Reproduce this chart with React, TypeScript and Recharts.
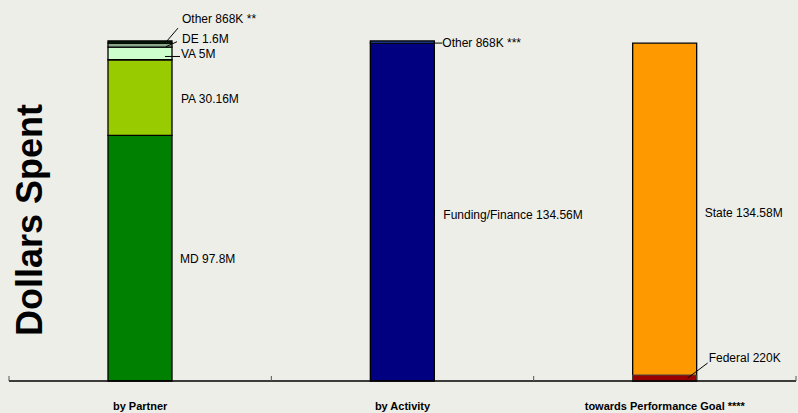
import React from 'react'
import { BarChart, Bar, XAxis, YAxis, LabelList } from 'recharts'

// ── Data (millions of dollars) ───────────────────────────────────────────────
const categories = ['by Partner', 'by Activity', 'towards Performance Goal ****']

const mdValues = [97.8, 0, 0]
const paValues = [30.16, 0, 0]
const vaValues = [5, 0, 0]
const deValues = [1.6, 0, 0]
const otherPartnerValues = [0.868, 0, 0]
const fundingValues = [0, 134.56, 0]
const otherActivityValues = [0, 0.868, 0]
const stateValues = [0, 0, 134.58]
const federalValues = [0, 0, 0.22]

type Series = {
  key: string
  name: string
  suffix?: string
  values: number[]
  color: string
}

// stacking order, bottom to top
const SERIES: Series[] = [
  { key: 'md', name: 'MD', values: mdValues, color: '#008000' },
  { key: 'pa', name: 'PA', values: paValues, color: '#99cc00' },
  { key: 'va', name: 'VA', values: vaValues, color: '#ccffcc' },
  { key: 'de', name: 'DE', values: deValues, color: '#88a888' },
  { key: 'otherP', name: 'Other', suffix: '**', values: otherPartnerValues, color: '#003300' },
  { key: 'funding', name: 'Funding/Finance', values: fundingValues, color: '#000080' },
  { key: 'otherA', name: 'Other', suffix: '***', values: otherActivityValues, color: '#3366ff' },
  { key: 'state', name: 'State', values: stateValues, color: '#ff9900' },
]

// drawn over the foot of the State bar, like the original
const FEDERAL: Series = { key: 'federal', name: 'Federal', values: federalValues, color: '#990000' }

const data = categories.map((name, i) => {
  const row: Record<string, string | number> = { name }
  SERIES.forEach((s) => { row[s.key] = s.values[i] })
  row[FEDERAL.key] = FEDERAL.values[i]
  return row
})

// ── Layout ───────────────────────────────────────────────────────────────────
const CHART_W = 798
const CHART_H = 413
const PLOT_LEFT = 9
const PLOT_RIGHT = 796
const PLOT_BOTTOM = 381
const BAND = (PLOT_RIGHT - PLOT_LEFT) / categories.length
const BG = '#eeeee9'
const FONT = '"Liberation Sans", Arial, sans-serif'

// label placement, offsets from bar right edge / segment middle
type Place = { line?: [number, number, number, number]; tx: number; ty: number }
const PLACES: Record<string, Place> = {
  md: { tx: 8, ty: 1 },
  pa: { tx: 9, ty: 1 },
  va: { line: [-7, 3, 8, 3], tx: 9, ty: 1 },
  de: { line: [-6, 1.5, 5, -3.5], tx: 10, ty: -6 },
  otherP: { line: [-6, 0, 6, -14], tx: 10, ty: -23 },
  funding: { tx: 9, ty: 3 },
  otherA: { line: [0, 1, 8, 1], tx: 8, ty: 1 },
  state: { tx: 8, ty: 1 },
  federal: { line: [-9, 0, 11, -15], tx: 12, ty: -20 },
}

function fmt(v: number) {
  return v >= 1 ? `${v}M` : `${Math.round(v * 1000)}K`
}

function makeLabel(s: Series) {
  return (props: any) => {
    const { x, y, width, height, value } = props
    if (!value) return null
    const p = PLACES[s.key]
    const r = Number(x) + Number(width)
    const m = Number(y) + Number(height) / 2
    const text = `${s.name} ${fmt(Number(value))}${s.suffix ? ' ' + s.suffix : ''}`
    return (
      <g>
        {p.line && (
          <line x1={r + p.line[0]} y1={m + p.line[1]} x2={r + p.line[2]} y2={m + p.line[3]}
            stroke="#000" strokeWidth={1} />
        )}
        <text x={r + p.tx} y={m + p.ty} fontSize={12} fontFamily={FONT} fill="#000"
          dominantBaseline="central">
          {text}
        </text>
      </g>
    )
  }
}

function CategoryTick(props: any) {
  const { x, payload, index } = props
  const left = x - BAND / 2
  return (
    <g>
      <line x1={left} y1={PLOT_BOTTOM} x2={left} y2={PLOT_BOTTOM - 5} stroke="#555" />
      {index === categories.length - 1 && (
        <line x1={x + BAND / 2} y1={PLOT_BOTTOM} x2={x + BAND / 2} y2={PLOT_BOTTOM - 5} stroke="#555" />
      )}
      <text x={x} y={410} textAnchor="middle" fontSize={11} fontWeight="bold" fontFamily={FONT} fill="#000">
        {payload.value}
      </text>
    </g>
  )
}

export default function App() {
  return (
    <div style={{ position: 'absolute', left: 0, top: 0, width: CHART_W, height: CHART_H, background: BG }}>
      <BarChart width={CHART_W} height={CHART_H} data={data}
        margin={{ top: 41, right: CHART_W - PLOT_RIGHT, left: 0, bottom: 0 }}>
        <XAxis dataKey="name" height={CHART_H - PLOT_BOTTOM} tickLine={false}
          axisLine={{ stroke: '#000', strokeWidth: 1.5 }} tick={<CategoryTick />} interval={0} />
        <XAxis xAxisId="over" dataKey="name" hide />
        <YAxis width={PLOT_LEFT} domain={[0, 'dataMax']} tick={false} axisLine={false} tickLine={false}
          label={{
            content: () => (
              <text x={42} y={220} transform="rotate(-90 42 220)" textAnchor="middle"
                fontSize={36} fontWeight="bold" fontFamily={FONT} fill="#000">
                Dollars Spent
              </text>
            ),
          }} />
        {SERIES.map((s) => (
          <Bar key={s.key} dataKey={s.key} stackId="a" fill={s.color} stroke="#000" strokeWidth={1.3}
            barSize={64} isAnimationActive={false}>
            <LabelList dataKey={s.key} content={makeLabel(s)} />
          </Bar>
        ))}
        <Bar dataKey={FEDERAL.key} xAxisId="over" fill={FEDERAL.color} stroke="#444" strokeWidth={1}
          barSize={64} minPointSize={(v: any) => (v ? 6 : 0)} isAnimationActive={false}>
          <LabelList dataKey={FEDERAL.key} content={makeLabel(FEDERAL)} />
        </Bar>
      </BarChart>
    </div>
  )
}
